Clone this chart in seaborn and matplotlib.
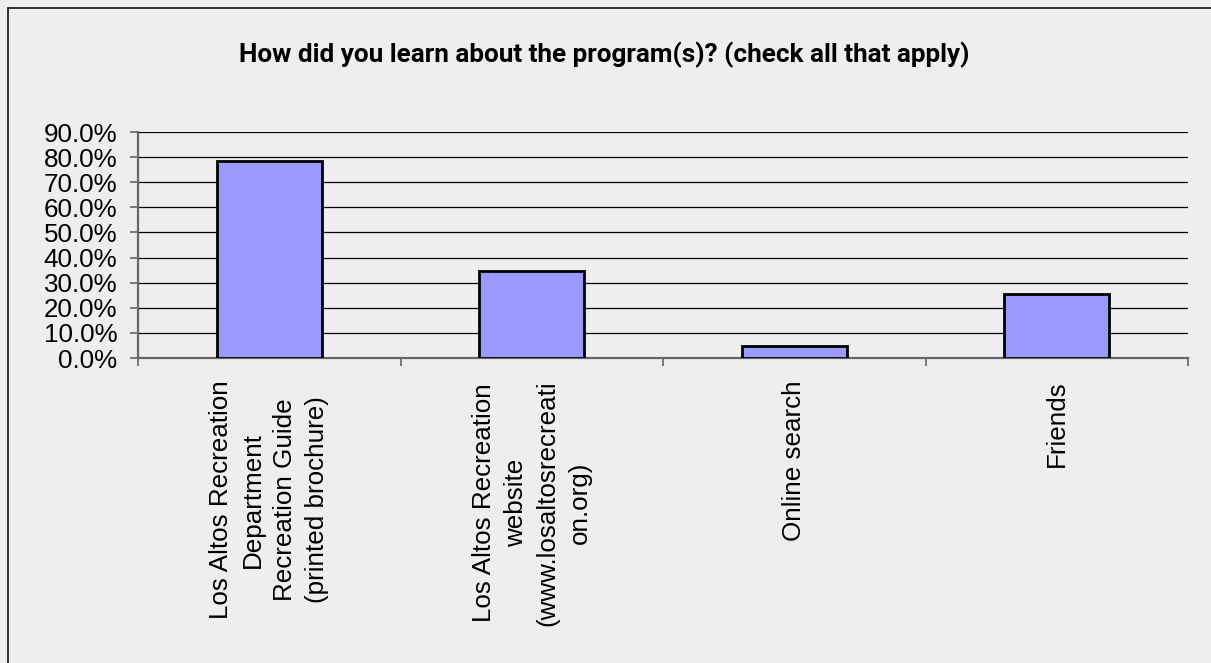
import pandas as pd
import matplotlib.pyplot as plt
import seaborn as sns
from matplotlib.ticker import PercentFormatter, FixedLocator, NullFormatter
from matplotlib.lines import Line2D

# data
sources = [
    'Los Altos Recreation\nDepartment\nRecreation Guide\n(printed brochure)',
    'Los Altos Recreation\nwebsite\n(www.losaltosrecreati\non.org)',
    'Online search',
    'Friends',
]
shares = [0.785, 0.345, 0.048, 0.255]
y_ticks = [0.0, 0.1, 0.2, 0.3, 0.4, 0.5, 0.6, 0.7, 0.8, 0.9]
title = 'How did you learn about the program(s)? (check all that apply)'

bg = '#EEEEEE'
sns.set_style('white')
plt.rcParams['font.family'] = ['Liberation Sans', 'DejaVu Sans']

df = pd.DataFrame({'source': sources, 'share': shares})

fig = plt.figure(figsize=(12.11, 6.63), dpi=100, facecolor=bg)
ax = fig.add_axes([138 / 1211, 1 - 358 / 663, (1188 - 138) / 1211, (358 - 132) / 663])
ax.set_facecolor(bg)

sns.barplot(data=df, x='source', y='share', color='#9999FF', saturation=1,
            edgecolor='black', linewidth=2, width=0.4, ax=ax, zorder=3)

ax.set_xlim(-0.5, len(sources) - 0.5)
ax.set_ylim(0, 0.9)
ax.set_yticks(y_ticks)
ax.yaxis.set_major_formatter(PercentFormatter(xmax=1, decimals=1))
ax.yaxis.grid(True, color='black', linewidth=0.9, zorder=0)
ax.set_axisbelow(True)

# ticks on category boundaries, labels at category centres
ax.xaxis.set_major_locator(FixedLocator([i - 0.5 for i in range(len(sources) + 1)]))
ax.xaxis.set_major_formatter(NullFormatter())
ax.xaxis.set_minor_locator(FixedLocator(list(range(len(sources)))))
ax.set_xticklabels(sources, minor=True, rotation=90, fontsize=18.7, color='black',
                   ha='center', va='top', multialignment='center', linespacing=1.42)
ax.tick_params(axis='x', which='major', direction='out', length=6, width=1.2,
               color='#666666', bottom=True)
ax.tick_params(axis='x', which='minor', length=0, pad=16)
ax.tick_params(axis='y', direction='out', length=6, width=1.2, color='#666666',
               left=True, labelsize=18.7, labelcolor='black', pad=9)

for s in ['top', 'right']:
    ax.spines[s].set_visible(False)
for s in ['left', 'bottom']:
    ax.spines[s].set_color('#666666')
    ax.spines[s].set_linewidth(1.6)
ax.set_xlabel('')
ax.set_ylabel('')

fig.text(604 / 1211, 1 - 55 / 663, title, ha='center', va='center', color='black',
         fontsize=18.8, fontweight='bold', family=['Roboto', 'DejaVu Sans'])

# outer chart border (top and left edges visible)
fig.add_artist(Line2D([8 / 1211, 1.0], [1 - 8 / 663, 1 - 8 / 663], color='#222222', linewidth=1.3))
fig.add_artist(Line2D([8 / 1211, 8 / 1211], [0.0, 1 - 8 / 663], color='#222222', linewidth=1.3))

fig.savefig('out.png', dpi=100, facecolor=bg)
